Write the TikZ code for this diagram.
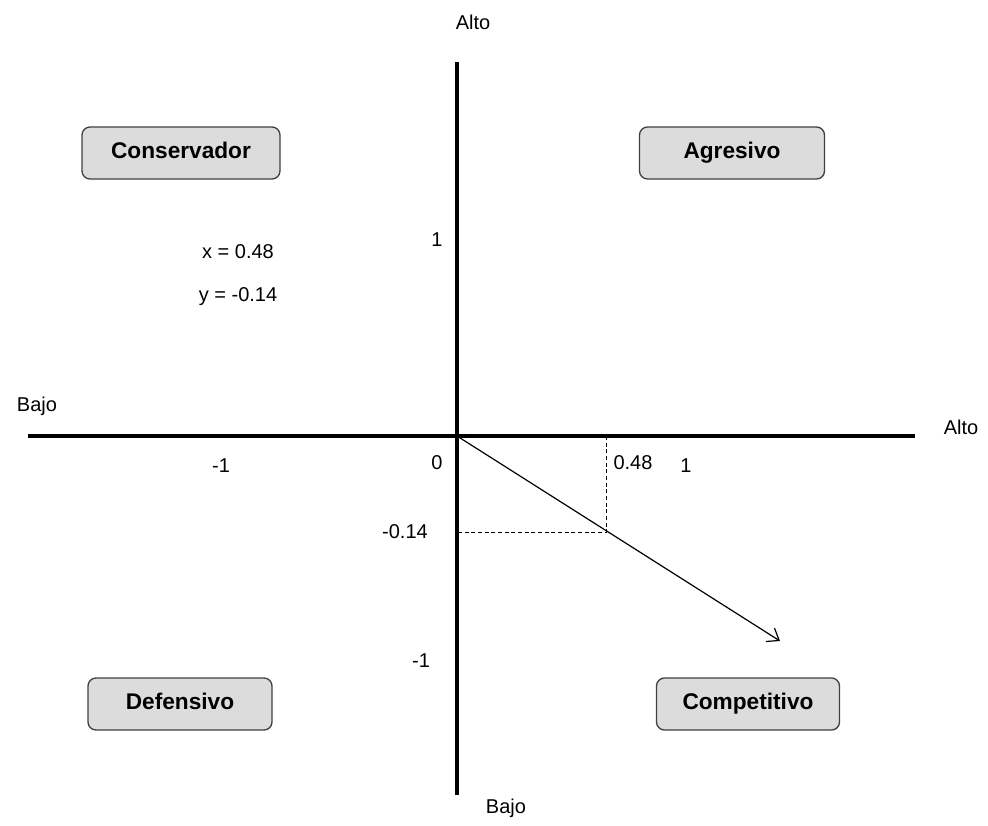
\documentclass[tikz,border=0pt]{standalone}
\usepackage{fontspec}
\setmainfont{Liberation Sans}
\usetikzlibrary{arrows.meta}
\definecolor{boxfill}{HTML}{DCDCDC}
\definecolor{boxline}{HTML}{404040}
\begin{document}
\begin{tikzpicture}[x=0.75pt,y=-0.75pt,
  quad/.style={draw=boxline,fill=boxfill,rounded corners=6pt,line width=1pt,
    minimum width=#1*0.75pt,minimum height=39pt,inner sep=0pt,
    text height=12pt,text depth=4pt,
    font=\fontsize{17}{20}\selectfont\bfseries},
  lbl/.style={inner sep=0pt,font=\fontsize{15}{18}\selectfont},
  axis/.style={line width=3.2pt},
  guide/.style={dashed,line width=0.6pt,dash pattern=on 3pt off 2pt}]
\useasboundingbox (0,0) rectangle (988,825);
% axes
\coordinate (O) at (457,436);
\coordinate (vt) at (457,62);
\coordinate (vb) at (457,795);
\coordinate (hl) at (28,436);
\coordinate (hr) at (915,436);
\draw[axis] (vt) -- (vb);
\draw[axis] (hl) -- (hr);
% axis end labels
\node[lbl] (altoT) at (473,22) {Alto};
\node[lbl] (bajoB) at (506,808) {Bajo};
\node[lbl] (bajoL) at (37,406) {Bajo};
\node[lbl] (altoR) at (961,427) {Alto};
% ticks
\node[lbl] (y1) at (437,240) {1};
\node[lbl] (xm1) at (221,466) {-1};
\node[lbl] (zero) at (437,463) {0};
\node[lbl] (x048) at (633,463) {0.48};
\node[lbl] (x1) at (686,466) {1};
\node[lbl] (ym014) at (405,532) {-0.14};
\node[lbl] (ym1) at (421,661) {-1};
% quadrant boxes
\node[quad=198] (cons) at (181,153) {Conservador};
\node[quad=185] (agr) at (732,153) {Agresivo};
\node[quad=184] (def) at (180,704) {Defensivo};
\node[quad=183] (comp) at (748,704) {Competitivo};
% values
\node[lbl] (xv) at (238,252) {x = 0.48};
\node[lbl] (yv) at (238,297) {y = -0.14};
% vector
\coordinate (P) at (606,532);
\coordinate (Px) at (606,436);
\coordinate (Py) at (457,532);
\coordinate (E) at (780,641);
\draw[guide] (Px) -- (P) -- (Py);
\draw[line width=0.9pt,-{Straight Barb[length=8pt,width=12pt]}] (O) -- (E);
\end{tikzpicture}
\end{document}
